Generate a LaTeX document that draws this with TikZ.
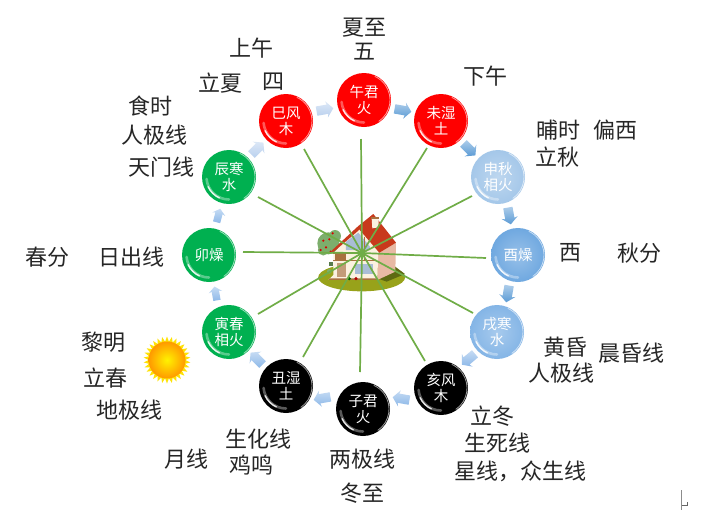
\documentclass[tikz,border=0pt]{standalone}
\usepackage{fontspec}
\setmainfont{Noto Sans CJK SC}
\usetikzlibrary{shapes.arrows,shapes.geometric}
\definecolor{spoke}{HTML}{70AD47}
\definecolor{orbred}{HTML}{FF0000}
\definecolor{orbgreen}{HTML}{00B050}
\definecolor{orbblack}{HTML}{000000}
\definecolor{skyA}{HTML}{A4C7E9}
\definecolor{skyB}{HTML}{6FA8E0}
\definecolor{skyC}{HTML}{84B5E6}
\definecolor{arrA}{HTML}{5B9BD5}
\definecolor{arrB}{HTML}{8DB8E8}
\definecolor{arrC}{HTML}{B9D0EE}
\definecolor{lawn}{HTML}{98A21A}
\definecolor{lawndark}{HTML}{5E6A12}
\definecolor{roofred}{HTML}{C8391C}
\definecolor{wallpink}{HTML}{E8B9A4}
\definecolor{wallcream}{HTML}{FBF1E0}
\definecolor{glass}{HTML}{A9BDD6}
\definecolor{timber}{HTML}{A9713F}
\definecolor{leaf}{HTML}{7DAE6C}
\tikzset{
  orb/.style={circle,minimum size=54pt,inner sep=0pt,text=white,align=center,
    font=\fontsize{14.5}{16}\selectfont},
  skyorb/.style={orb,inner color=#1!72!white,outer color=#1},
  flatorb/.style={orb,fill=#1},
  caption/.style={inner sep=0pt,font=\fontsize{22}{24}\selectfont,text=black!85},
  spokeline/.style={spoke,line width=1.7pt},
  flow/.style={single arrow,minimum height=17pt,inner sep=4.5pt,
    single arrow head extend=3.5pt,single arrow tip angle=100,
    single arrow head indent=1pt,top color=#1!50!white,bottom color=#1},
  smallflow/.style={flow=#1,minimum height=14pt,inner sep=3.5pt,single arrow head extend=3pt},
  gloss/.style={white,line cap=round},
}
% a glossy ball: coloured disc, pale rim on the right, crescent at lower left
\newcommand{\ball}[4]{%
  \node[#3] (#1) at (#2) {#4};
  \draw[gloss,line width=.8pt,opacity=.6] ([shift={(-55:26pt)}]#1.center) arc[start angle=-55,end angle=65,radius=26pt];
  \draw[gloss,line width=2.6pt,opacity=.35] ([shift={(185:22.5pt)}]#1.center) arc[start angle=185,end angle=270,radius=22.5pt];
  \draw[gloss,line width=1.4pt,opacity=.85] ([shift={(205:23pt)}]#1.center) arc[start angle=205,end angle=245,radius=23pt];
}
\begin{document}
\begin{tikzpicture}[x=1pt,y=-1pt]
\useasboundingbox[fill=white] (0,0) rectangle (720,520);

% the house at the hub
\begin{scope}[shift={(290,200)},x=.3333pt,y=-.3333pt]
  \fill[lawn] (215,232) ellipse[x radius=43.5pt,y radius=14pt];
  \fill[lawndark] (305,192) -- (345,222) -- (290,245) -- (262,235) -- cycle;
  % tree behind the gable
  \fill[leaf] (115,130) circle[radius=11pt];
  \fill[leaf] (135,108) circle[radius=6pt];
  \fill[leaf] (100,150) circle[radius=5.5pt];
  \foreach \p in {(92,150),(108,142),(118,118),(128,100),(100,122),(122,155)}
    \fill[red!85!black] \p circle[radius=1.2pt];
  \fill[leaf!70!black] (118,185) rectangle (128,198);
  % walls
  \fill[wallpink] (262,155) -- (318,128) -- (316,215) -- (262,240) -- cycle;
  \fill[wallcream] (130,160) -- (205,85) -- (265,152) -- (262,240) -- (115,240) -- (130,225) -- cycle;
  % windows and timber
  \fill[glass] (168,125) -- (205,98) -- (240,140) -- (240,150) -- (168,150) -- cycle;
  \fill[timber] (135,163) rectangle (168,180);
  \fill[timber!70!white] (140,190) rectangle (168,230);
  \fill[glass] (195,192) rectangle (250,222);
  \draw[timber,line width=.8pt] (130,182) -- (262,182);
  \draw[timber,line width=.8pt] (130,160) -- (262,160);
  \draw[timber,line width=.8pt] (222,110) -- (222,182);
  \fill[timber] (115,240) -- (262,240) -- (262,235) -- (120,235) -- cycle;
  % roof and chimney
  \fill[roofred] (250,42) -- (318,128) -- (268,158) -- (205,85) -- cycle;
  \fill[roofred] (250,42) -- (205,78) -- (125,152) -- (128,158) -- (205,92) -- cycle;
  \fill[wallcream] (245,55) -- (266,53) -- (266,82) -- (247,85) -- cycle;
  \fill[timber] (243,52) rectangle (268,57);
  % flowers along the front
  \fill[red!70!black] (198,236) circle[radius=1.7pt];
  \fill[green!40!black] (178,236) circle[radius=1.7pt];
  \fill[leaf] (118,214) circle[radius=2.3pt];
\end{scope}

% ends of the spokes
\coordinate (hub) at (362,253);
\coordinate (e1) at (361,139);
\coordinate (e2) at (427,148);
\coordinate (e3) at (472,196);
\coordinate (e4) at (486,258);
\coordinate (e5) at (473,313);
\coordinate (e6) at (425,361);
\coordinate (e7) at (360,372);
\coordinate (e8) at (303,357);
\coordinate (e9) at (258,314);
\coordinate (e10) at (243,252);
\coordinate (e11) at (258,197);
\coordinate (e12) at (304,149);
\foreach \i in {1,...,12} \draw[spokeline] (hub) -- (e\i);

% the twelve branches
\ball{wu}{364,100}{flatorb=orbred}{午君\\火}
\ball{wei}{441,121}{flatorb=orbred}{未湿\\土}
\ball{shen}{498,177}{skyorb=skyA}{申秋\\相火}
\ball{you}{518,255}{skyorb=skyB}{酉燥}
\ball{xu}{497,332}{skyorb=skyC}{戌寒\\水}
\ball{hai}{441,388}{flatorb=orbblack}{亥风\\木}
\ball{zi}{363,409}{flatorb=orbblack}{子君\\火}
\ball{chou}{286,386}{flatorb=orbblack}{丑湿\\土}
\ball{yin}{229,332}{flatorb=orbgreen}{寅春\\相火}
\ball{mao}{209,255}{flatorb=orbgreen}{卯燥}
\ball{chen}{229,177}{flatorb=orbgreen}{辰寒\\水}
\ball{si}{286,121}{flatorb=orbred}{巳风\\木}

% clockwise flow between the branches
\node[flow=arrA,rotate=-10] (f1) at (401,110) {};
\node[flow=arrA,rotate=-45] (f2) at (468,148) {};
\node[flow=arrA,rotate=-80] (f3) at (509,214) {};
\node[flow=arrA,rotate=-100] (f4) at (508,292) {};
\node[flow=arrB,rotate=-140] (f5) at (470,358) {};
\node[flow=arrB,rotate=170] (f6) at (403,399) {};
\node[flow=arrB,rotate=190] (f7) at (324,398) {};
\node[flow=arrB,rotate=135] (f8) at (258,360) {};
\node[smallflow=arrB,rotate=100] (f9) at (216,295) {};
\node[smallflow=arrB,rotate=75] (f10) at (218,217) {};
\node[flow=arrC,rotate=45] (f11) at (256,150) {};
\node[flow=arrC,rotate=10] (f12) at (323,110) {};

% the sun
\node[star,star points=30,star point ratio=1.28,minimum size=47pt,inner sep=0pt,fill=yellow!85!orange] (sunrays) at (167,360) {};
\node[circle,minimum size=37pt,inner sep=0pt,inner color=yellow!90!orange,outer color=orange!80!yellow] (sun) at (167,360) {};

% captions
\node[caption] (t1) at (364,28) {夏至};
\node[caption] (t2) at (364,52) {五};
\node[caption] (t3) at (251,48) {上午};
\node[caption] (t4) at (220,83) {立夏};
\node[caption] (t5) at (273,82) {四};
\node[caption] (t6) at (485,76) {下午};
\node[caption] (t7) at (150,106) {食时};
\node[caption] (t8) at (154,135) {人极线};
\node[caption] (t9) at (161,167) {天门线};
\node[caption] (t10) at (558,130) {晡时};
\node[caption] (t11) at (615,130) {偏西};
\node[caption] (t12) at (557,157) {立秋};
\node[caption] (t13) at (570,253) {西};
\node[caption] (t14) at (639,253) {秋分};
\node[caption] (t15) at (47,257) {春分};
\node[caption] (t16) at (131,257) {日出线};
\node[caption] (t17) at (103,342) {黎明};
\node[caption] (t18) at (105,378) {立春};
\node[caption] (t19) at (129,410) {地极线};
\node[caption] (t20) at (565,347) {黄昏};
\node[caption] (t21) at (631,353) {晨昏线};
\node[caption] (t22) at (561,373) {人极线};
\node[caption] (t23) at (492,416) {立冬};
\node[caption] (t24) at (497,443) {生死线};
\node[caption] (t25) at (520,471) {星线，众生线};
\node[caption] (t26) at (258,439) {生化线};
\node[caption] (t27) at (251,465) {鸡鸣};
\node[caption] (t28) at (186,459) {月线};
\node[caption] (t29) at (362,459) {两极线};
\node[caption] (t30) at (362,493) {冬至};

% text cursor and paragraph mark
\draw[black!45,line width=.7pt] (681.7,490) -- (681.7,510);
\draw[black!60,line width=.6pt] (687,502) -- (687,505.5) -- (682,505.5);
\end{tikzpicture}
\end{document}
